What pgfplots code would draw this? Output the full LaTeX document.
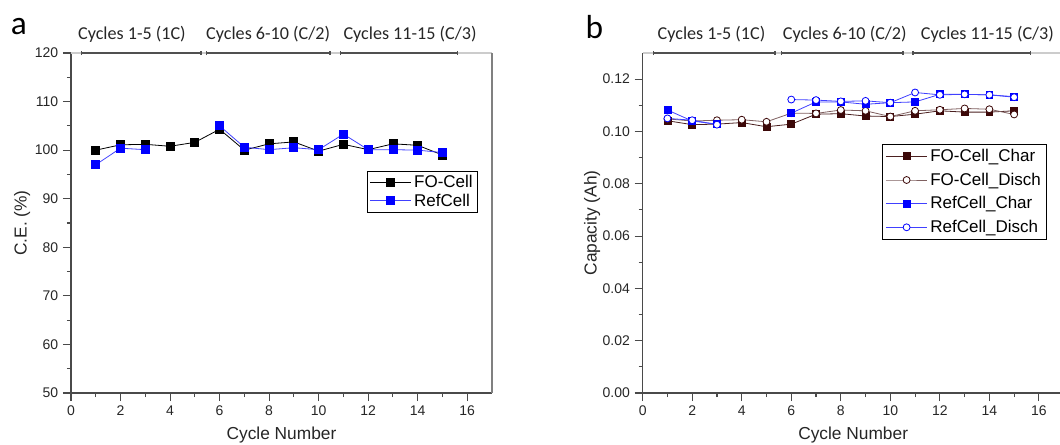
\documentclass[border=0pt]{standalone}
\usepackage{pgfplots}
\pgfplotsset{compat=1.18}
\usepackage{fontspec}
\setmainfont{Liberation Sans}
\newfontfamily\calibri{Carlito}
\usetikzlibrary{arrows.meta}
\definecolor{axgray}{HTML}{4A4A4A}
\definecolor{framegray}{HTML}{808080}
\definecolor{topgray}{HTML}{CCCCCC}
\definecolor{seggray}{HTML}{505050}
\definecolor{ticktext}{HTML}{262626}
\definecolor{foc}{HTML}{3C0808}
\definecolor{focline}{HTML}{4B2020}
\definecolor{fodline}{HTML}{7F6060}
\definecolor{refblue}{HTML}{0000FF}
\definecolor{reflight}{HTML}{4040FF}

\pgfplotstableread{
x fo ref
1 100.0 97.0
2 101.1 100.4
3 101.2 100.1
4 100.8 nan
5 101.6 nan
6 104.3 105.0
7 100.0 100.6
8 101.3 100.1
9 101.7 100.5
10 99.8 100.1
11 101.2 103.3
12 100.1 100.1
13 101.3 100.1
14 101.0 100.0
15 99.0 99.5
}\cetable

\pgfplotstableread{
x fochar fodisch refchar refdisch
1 0.1041 0.1048 0.1082 0.1050
2 0.1026 0.1040 0.1040 0.1043
3 0.1028 0.1043 0.1028 0.1026
4 0.1034 0.1045 nan nan
5 0.1018 0.1037 nan nan
6 0.1028 0.1070 0.1070 0.1122
7 0.1066 0.1069 0.1113 0.1120
8 0.1068 0.1082 0.1113 0.1115
9 0.1059 0.1079 0.1104 0.1117
10 0.1057 0.1057 0.1110 0.1110
11 0.1066 0.1079 0.1113 0.1149
12 0.1079 0.1083 0.1142 0.1140
13 0.1074 0.1088 0.1142 0.1142
14 0.1074 0.1085 0.1140 0.1140
15 0.1079 0.1065 0.1133 0.1131
}\captable

\tikzset{
  seg/.style={color=seggray, line width=1.1pt, {Bar[width=3pt]}-{Bar[width=3pt]}},
  cyc/.style={font=\calibri\fontsize{13.6}{15}\selectfont, text=ticktext, anchor=base, yshift=10.5pt},
}

\begin{document}
\begin{tikzpicture}
\pgfplotsset{
  common/.style={
    scale only axis, width=315.75pt, height=255pt, anchor=south west,
    xmin=0, xmax=17, xtick={0,2,...,16}, minor x tick num=1,
    axis lines=left, axis line style={-, color=axgray, line width=0.9pt},
    tick style={color=axgray, line width=0.8pt},
    major tick length=6pt, minor tick length=3pt, tick align=outside,
    tick label style={font=\fontsize{10.5}{12}\selectfont, text=ticktext},
    /pgf/number format/assume math mode=true,
    label style={font=\fontsize{13}{15}\selectfont, text=ticktext},
    xlabel={Cycle Number},
    xlabel style={at={(rel axis cs:0.5,-0.125)}, anchor=center},
    clip=false,
    unbounded coords=jump,
    legend cell align=left,
    legend image code/.code={\draw[mark repeat=2,mark phase=2,##1] plot coordinates {(0pt,0pt) (15.5pt,0pt) (31pt,0pt)};},
  },
}

% ---------- panel a ----------
\begin{axis}[common,
  at={(53.25pt,38.25pt)},
  ymin=50, ymax=120, ytick={50,60,...,120}, minor y tick num=1,
  ylabel={C.E. (\%)},
  ylabel style={at={(rel axis cs:-0.116,0.5)}, anchor=center},
  legend style={at={(0.703,0.653)}, anchor=north west, draw=black, line width=0.6pt,
    font=\fontsize{12.75}{14}\selectfont, inner xsep=1.5pt, inner ysep=1pt, row sep=-1pt},
]
\draw[topgray, line width=0.9pt] (rel axis cs:0,1) -- (rel axis cs:1,1);
\draw[framegray, line width=0.9pt] (rel axis cs:1,0) -- (rel axis cs:1,1);
\draw[seg] (axis cs:0.39,120) -- (axis cs:5.28,120);
\draw[seg] (axis cs:5.45,120) -- (axis cs:10.49,120);
\draw[seg] (axis cs:10.86,120) -- (axis cs:15.63,120);
\node[cyc] at (axis cs:2.46,120) {Cycles 1-5 (1C)};
\node[cyc] at (axis cs:7.96,120) {Cycles 6-10 (C/2)};
\node[cyc] at (axis cs:13.69,120) {Cycles 11-15 (C/3)};
\addplot[black, line width=0.6pt, mark=square*, mark size=3pt, mark options={fill=black}] table[x=x, y=fo] {\cetable};
\addlegendentry{FO-Cell}
\addplot[reflight, line width=0.6pt, mark=square*, mark size=3pt, mark options={draw=refblue, fill=refblue}] table[x=x, y=ref] {\cetable};
\addlegendentry{RefCell}
\end{axis}

% ---------- panel b ----------
\begin{axis}[common,
  at={(482pt,38.25pt)},
  ymin=0, ymax=0.13, ytick={0,0.02,...,0.121}, minor y tick num=1,
  scaled y ticks=false,
  yticklabel style={/pgf/number format/.cd, fixed, fixed zerofill, precision=2},
  ylabel={Capacity (Ah)},
  ylabel style={at={(rel axis cs:-0.120,0.5)}, anchor=center},
  legend style={at={(0.568,0.732)}, anchor=north west, draw=black, line width=0.6pt,
    font=\fontsize{12.75}{14}\selectfont, inner xsep=2.5pt, inner ysep=1.5pt, row sep=3pt},
]
\draw[topgray, line width=0.9pt] (rel axis cs:0,1) -- (rel axis cs:1,1);
\draw[framegray, line width=0.9pt] (rel axis cs:1,0) -- (rel axis cs:1,1);
\draw[seg] (axis cs:0.41,0.13) -- (axis cs:5.38,0.13);
\draw[seg] (axis cs:5.58,0.13) -- (axis cs:10.55,0.13);
\draw[seg] (axis cs:10.88,0.13) -- (axis cs:15.69,0.13);
\node[cyc] at (axis cs:2.78,0.13) {Cycles 1-5 (1C)};
\node[cyc] at (axis cs:8.16,0.13) {Cycles 6-10 (C/2)};
\node[cyc] at (axis cs:13.92,0.13) {Cycles 11-15 (C/3)};
\addplot[focline, line width=0.6pt, mark=square*, mark size=2.6pt, mark options={draw=foc, fill=foc}] table[x=x, y=fochar] {\captable};
\addlegendentry{FO-Cell\_Char}
\addplot[fodline, line width=0.6pt, mark=*, mark size=2.6pt, mark options={draw=foc, fill=white}] table[x=x, y=fodisch] {\captable};
\addlegendentry{FO-Cell\_Disch}
\addplot[reflight, line width=0.6pt, mark=square*, mark size=2.6pt, mark options={draw=refblue, fill=refblue}] table[x=x, y=refchar] {\captable};
\addlegendentry{RefCell\_Char}
\addplot[reflight, line width=0.6pt, mark=*, mark size=2.6pt, mark options={draw=refblue, fill=white}] table[x=x, y=refdisch] {\captable};
\addlegendentry{RefCell\_Disch}
\end{axis}

\node[anchor=base west, inner sep=0pt, font=\calibri\fontsize{25}{28}\selectfont] at (8pt,307.5pt) {a};
\node[anchor=base west, inner sep=0pt, font=\calibri\fontsize{25}{28}\selectfont] at (439pt,304.5pt) {b};

\pgfresetboundingbox
\useasboundingbox (0pt,0pt) rectangle (795pt,333pt);
\end{tikzpicture}
\end{document}
